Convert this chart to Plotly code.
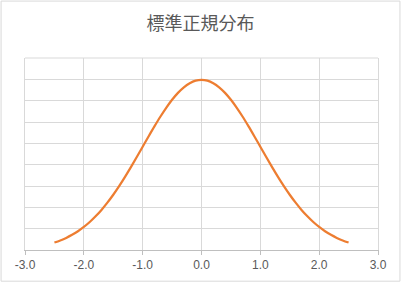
import plotly.graph_objects as go

x_vals = [-2.5, -2.4, -2.3, -2.2, -2.1, -2.0, -1.9, -1.8, -1.7, -1.6, -1.5, -1.4, -1.3, -1.2, -1.1,
          -1.0, -0.9, -0.8, -0.7, -0.6, -0.5, -0.4, -0.3, -0.2, -0.1, 0.0,
          0.1, 0.2, 0.3, 0.4, 0.5, 0.6, 0.7, 0.8, 0.9, 1.0, 1.1, 1.2, 1.3, 1.4, 1.5,
          1.6, 1.7, 1.8, 1.9, 2.0, 2.1, 2.2, 2.3, 2.4, 2.5]
y_half = [0.0175, 0.0224, 0.0283, 0.0355, 0.0440, 0.0540, 0.0656, 0.0790, 0.0940, 0.1109,
          0.1295, 0.1497, 0.1714, 0.1942, 0.2179, 0.2420, 0.2661, 0.2897, 0.3123, 0.3332,
          0.3521, 0.3683, 0.3814, 0.3910, 0.3970]
y_peak = [0.3989]
y_vals = y_half + y_peak + y_half[::-1]

title_text = "標準正規分布"
x_ticks = [-3.0, -2.0, -1.0, 0.0, 1.0, 2.0, 3.0]
x_tick_labels = ["-3.0", "-2.0", "-1.0", "0.0", "1.0", "2.0", "3.0"]

W, H = 401, 284
ml, mr, mt, mb = 24.5, 22.5, 58, 32
pw, ph = W - ml - mr, H - mt - mb

fig = go.Figure()
fig.add_trace(go.Scatter(x=x_vals, y=y_vals, mode="lines",
                         line=dict(color="#ED7D31", width=2.25, shape="spline"),
                         hoverinfo="skip", showlegend=False))

fig.update_layout(
    width=W, height=H,
    margin=dict(l=ml, r=mr, t=mt, b=mb, pad=0),
    paper_bgcolor="white", plot_bgcolor="white",
    title=dict(text=title_text, x=0.5, xanchor="center", y=1 - 24 / H, yanchor="middle",
               font=dict(family="Noto Sans CJK JP", size=18, color="#595959")),
    xaxis=dict(range=[-3, 3], tickvals=x_ticks, ticktext=x_tick_labels,
               showgrid=True, gridcolor="#d9d9d9", gridwidth=1,
               showline=True, linecolor="#bfbfbf", linewidth=1,
               ticks="outside", ticklen=4, tickcolor="#bfbfbf",
               zeroline=False, fixedrange=True,
               tickfont=dict(family="Liberation Sans", size=12, color="#595959")),
    yaxis=dict(range=[0, 0.45], dtick=0.05, showticklabels=False,
               showgrid=True, gridcolor="#d9d9d9", gridwidth=1,
               zeroline=False, showline=True, mirror=True, linecolor="#d9d9d9",
               linewidth=1, fixedrange=True),
    shapes=[
        dict(type="rect", xref="paper", yref="paper",
             x0=(0.5 - ml) / pw, x1=(W - 0.5 - ml) / pw,
             y0=-(mb - 0.5) / ph, y1=(H - 0.5 - mb) / ph,
             line=dict(color="#d9d9d9", width=1), layer="below"),
        dict(type="line", xref="paper", yref="paper", x0=0, x1=1, y0=1, y1=1,
             line=dict(color="#d9d9d9", width=1), layer="below"),
    ],
)

fig.write_html("out.html")
